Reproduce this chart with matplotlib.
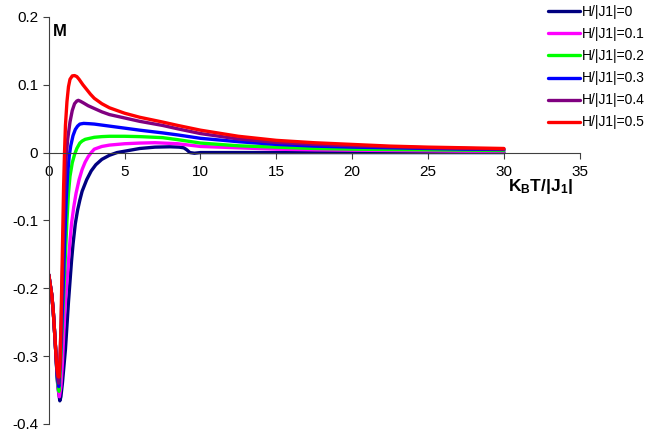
import matplotlib
matplotlib.use('Agg')
from matplotlib import pyplot as plt

plt.rcParams['font.family'] = ['Liberation Sans', 'DejaVu Sans']
plt.rcParams['mathtext.fontset'] = 'custom'
plt.rcParams['mathtext.bf'] = 'Liberation Sans:bold'
plt.rcParams['mathtext.rm'] = 'Liberation Sans'

labels = ['H/|J1|=0', 'H/|J1|=0.1', 'H/|J1|=0.2', 'H/|J1|=0.3', 'H/|J1|=0.4', 'H/|J1|=0.5']
colors = ['#000080', '#ff00ff', '#00ff00', '#0000ff', '#800080', '#ff0000']

# common low-temperature branch
t_left = [0.0, 0.1, 0.2, 0.3, 0.4, 0.48]
m_left = [-0.18, -0.195, -0.21, -0.235, -0.27, -0.30]

t_tail = [12.5, 15.0, 17.5, 20.0, 22.5, 25.0, 27.5, 30.0]

t_h0 = t_left + [0.6, 0.73, 0.8, 0.9, 1.0, 1.1, 1.2, 1.3, 1.4, 1.5, 1.6, 1.75, 1.9, 2.05, 2.2, 2.5, 2.8,
                 3.1, 3.5, 4.0, 4.5, 5.0, 6.0, 7.0, 8.0, 8.6, 8.9, 9.1, 9.3, 9.6, 10.0] + t_tail
m_h0 = m_left + [-0.345, -0.366, -0.36, -0.34, -0.315, -0.29, -0.255, -0.22, -0.19, -0.16, -0.135, -0.105,
                 -0.085, -0.07, -0.057, -0.04, -0.027, -0.018, -0.01, -0.004, 0.0, 0.002, 0.006, 0.008,
                 0.0085, 0.008, 0.007, 0.004, 0.0, -0.001, 0.0] + [0.0] * 8

t_h1 = t_left + [0.58, 0.7, 0.8, 0.9, 1.0, 1.1, 1.2, 1.3, 1.4, 1.5, 1.65, 1.8, 2.0, 2.2, 2.4, 2.6, 2.8,
                 3.0, 3.5, 4.0, 5.0, 6.0, 7.0, 8.5, 10.0] + t_tail
m_h1 = m_left + [-0.34, -0.36, -0.345, -0.31, -0.26, -0.22, -0.19, -0.16, -0.13, -0.105, -0.08, -0.06,
                 -0.04, -0.025, -0.014, -0.006, 0.0, 0.005, 0.009, 0.011, 0.013, 0.014, 0.0145, 0.013,
                 0.009] + [0.007, 0.005, 0.004, 0.0035, 0.003, 0.0025, 0.002, 0.002]

t_h2 = t_left + [0.56, 0.68, 0.8, 0.9, 1.0, 1.1, 1.2, 1.3, 1.4, 1.55, 1.7, 1.85, 2.05, 2.2, 2.4, 2.7,
                 3.0, 3.5, 4.0, 5.0, 6.0, 7.5, 8.5, 10.0] + t_tail
m_h2 = m_left + [-0.335, -0.352, -0.3, -0.25, -0.2, -0.15, -0.1, -0.06, -0.035, -0.015, -0.003, 0.006,
                 0.014, 0.017, 0.0195, 0.021, 0.0225, 0.0235, 0.024, 0.024, 0.0235, 0.022, 0.019,
                 0.014] + [0.01, 0.008, 0.006, 0.005, 0.0045, 0.004, 0.0035, 0.003]

t_h3 = t_left + [0.55, 0.66, 0.75, 0.85, 0.95, 1.05, 1.15, 1.25, 1.35, 1.45, 1.6, 1.75, 1.9, 2.05, 2.3,
                 2.7, 3.0, 4.0, 5.0, 6.0, 7.5, 8.5, 10.0] + t_tail
m_h3 = m_left + [-0.33, -0.345, -0.31, -0.26, -0.2, -0.13, -0.07, -0.03, -0.005, 0.01, 0.025, 0.034,
                 0.039, 0.042, 0.043, 0.0425, 0.042, 0.039, 0.036, 0.033, 0.029, 0.026, 0.021] + \
    [0.016, 0.012, 0.0095, 0.008, 0.007, 0.006, 0.005, 0.0045]

t_h4 = t_left + [0.55, 0.65, 0.73, 0.82, 0.9, 0.98, 1.06, 1.15, 1.25, 1.4, 1.55, 1.7, 1.85, 1.95, 2.1,
                 2.3, 2.6, 3.0, 3.5, 4.0, 5.0, 6.0, 7.5, 8.5, 10.0] + t_tail
m_h4 = m_left + [-0.325, -0.34, -0.31, -0.25, -0.18, -0.11, -0.05, -0.005, 0.02, 0.045, 0.062, 0.072,
                 0.076, 0.077, 0.0755, 0.073, 0.069, 0.065, 0.06, 0.056, 0.051, 0.046, 0.04, 0.035,
                 0.028] + [0.02, 0.015, 0.012, 0.01, 0.0085, 0.007, 0.006, 0.005]

t_h5 = t_left + [0.55, 0.62, 0.68, 0.74, 0.8, 0.86, 0.92, 0.98, 1.04, 1.1, 1.2, 1.3, 1.4, 1.55, 1.7, 1.85,
                 2.0, 2.25, 2.5, 2.75, 3.0, 3.5, 4.0, 4.5, 5.0, 6.0, 7.5, 8.5, 10.0] + t_tail
m_h5 = m_left + [-0.32, -0.33, -0.331, -0.31, -0.26, -0.19, -0.12, -0.05, 0.0, 0.04, 0.075, 0.097, 0.108,
                 0.113, 0.1135, 0.112, 0.108, 0.1, 0.093, 0.086, 0.08, 0.072, 0.066, 0.062, 0.058,
                 0.052, 0.045, 0.04, 0.033] + [0.024, 0.018, 0.0145, 0.012, 0.0095, 0.008, 0.007, 0.006]

temps = [t_h0, t_h1, t_h2, t_h3, t_h4, t_h5]
mags = [m_h0, m_h1, m_h2, m_h3, m_h4, m_h5]

fig = plt.figure(figsize=(6.5, 4.33), dpi=100)
ax = fig.add_axes([0.075, 0.021, 0.817, 0.94])

for t, m, c, lab in zip(temps, mags, colors, labels):
    ax.plot(t, m, color=c, lw=2.4, label=lab, solid_joinstyle='round', solid_capstyle='round')

ax.set_xlim(0, 35)
ax.set_ylim(-0.4, 0.2)
ax.set_xticks(range(0, 36, 5))
ax.set_yticks([-0.4, -0.3, -0.2, -0.1, 0, 0.1, 0.2])
ax.set_yticklabels(['-0.4', '-0.3', '-0.2', '-0.1', '0', '0.1', '0.2'])

ax.spines['top'].set_visible(False)
ax.spines['right'].set_visible(False)
ax.spines['bottom'].set_position(('data', 0))
for s in ['left', 'bottom']:
    ax.spines[s].set_color('#404040')
    ax.spines[s].set_linewidth(0.8)
ax.tick_params(direction='out', length=4, width=0.8, color='#404040', labelsize=11)
ax.tick_params(axis='x', pad=5)

ax.text(0.25, 0.178, 'M', fontsize=12, fontweight='bold', va='center')
ax.text(30.3, -0.05, r'$\mathbf{K_{B}T/|J_{1}|}$', fontsize=12.5, va='center')

ax.legend(loc='upper left', bbox_to_anchor=(0.843, 0.988), bbox_transform=fig.transFigure,
          frameon=False, fontsize=10, borderpad=0, borderaxespad=0, handlelength=2.3,
          handletextpad=0.15, labelspacing=0.58)

plt.savefig('out.png', dpi=100)
